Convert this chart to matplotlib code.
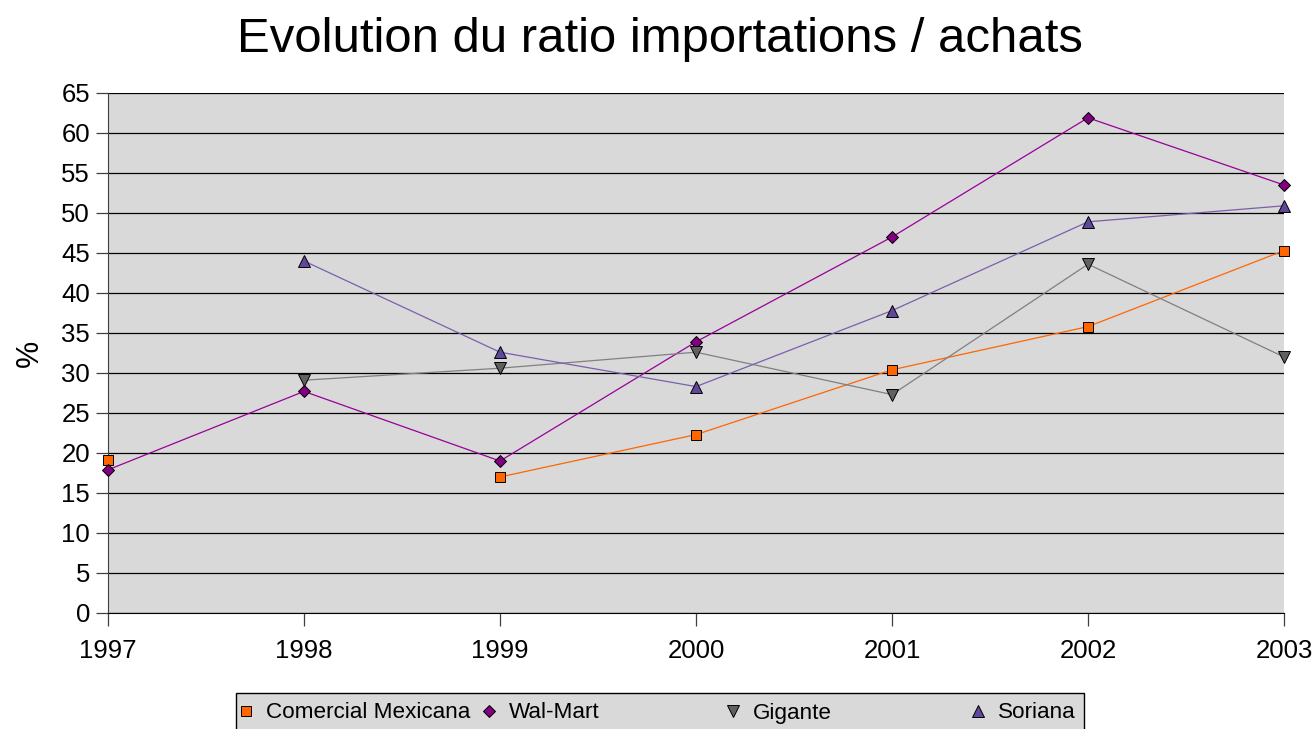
import numpy as np
import matplotlib
matplotlib.use("Agg")
import matplotlib.pyplot as plt
from matplotlib.lines import Line2D
from matplotlib.patches import Rectangle

plt.rcParams['font.family'] = ['Liberation Sans', 'DejaVu Sans']

years = [1997, 1998, 1999, 2000, 2001, 2002, 2003]
comercial = [19.1, np.nan, 17.0, 22.3, 30.4, 35.8, 45.3]
walmart = [17.9, 27.7, 19.0, 33.9, 47.0, 61.9, 53.5]
gigante = [np.nan, 29.1, 30.6, 32.6, 27.3, 43.6, 32.0]
soriana = [np.nan, 44.0, 32.6, 28.3, 37.8, 48.9, 50.9]
names = ["Comercial Mexicana", "Wal-Mart", "Gigante", "Soriana"]
yticks = list(range(0, 70, 5))

W, H = 1316, 729
fig = plt.figure(figsize=(W / 100, H / 100), dpi=100)
ax = fig.add_axes([108 / W, 1 - 613 / H, (1284 - 108) / W, (613 - 93) / H])
ax.set_facecolor('#D9D9D9')

styles = [
    dict(color='#FF6600', marker='s', mfc='#FF6600', ms=7.5),
    dict(color='#990099', marker='D', mfc='#800080', ms=6),
    dict(color='#808080', marker='v', mfc='#606060', ms=8.5),
    dict(color='#7B5FAE', marker='^', mfc='#60479A', ms=8.5),
]
series = [comercial, walmart, gigante, soriana]
handles = []
for vals, st in zip(series, styles):
    ax.plot(years, vals, color=st['color'], lw=0.9, marker=st['marker'],
            mfc=st['mfc'], mec='#000000', mew=0.7, ms=st['ms'], zorder=3,
            clip_on=False)
    handles.append(Line2D([], [], ls='none', marker=st['marker'], mfc=st['mfc'],
                          mec='#000000', mew=0.7, ms=st['ms'] * 1.05))

ax.set_xlim(years[0], years[-1])
ax.set_ylim(0, 65)
ax.set_yticks(yticks)
ax.set_xticks(years)
ax.yaxis.grid(True, color='#000000', lw=0.9)
ax.set_axisbelow(True)
for s in ['top', 'right']:
    ax.spines[s].set_visible(False)
ax.spines['left'].set_color('#404040')
ax.spines['bottom'].set_color('#000000')
ax.tick_params(axis='both', direction='out', length=9, width=0.9,
               labelsize=18.5, color='#404040')
ax.tick_params(axis='x', pad=10)
ax.tick_params(axis='y', pad=4)
ax.set_ylabel('%', fontsize=22, labelpad=12)

fig.text(660 / W, 1 - 40 / H, 'Evolution du ratio importations / achats',
         ha='center', va='center', fontsize=35.4)

# legend box
fig.patches.append(Rectangle((236 / W, 1 - 740 / H), (1084 - 236) / W, 47 / H,
                             transform=fig.transFigure, facecolor='#D9D9D9',
                             edgecolor='#000000', lw=1.0))
xpos = [237, 480, 724, 969]
for h, name, xp in zip(handles, names, xpos):
    fig.legend(handles=[h], labels=[name], loc='center left',
               bbox_to_anchor=(xp / W, 1 - 713 / H), frameon=False,
               fontsize=16.2, handlelength=0.8, handletextpad=0.5,
               borderpad=0, borderaxespad=0)

fig.savefig('out.png', dpi=100)
